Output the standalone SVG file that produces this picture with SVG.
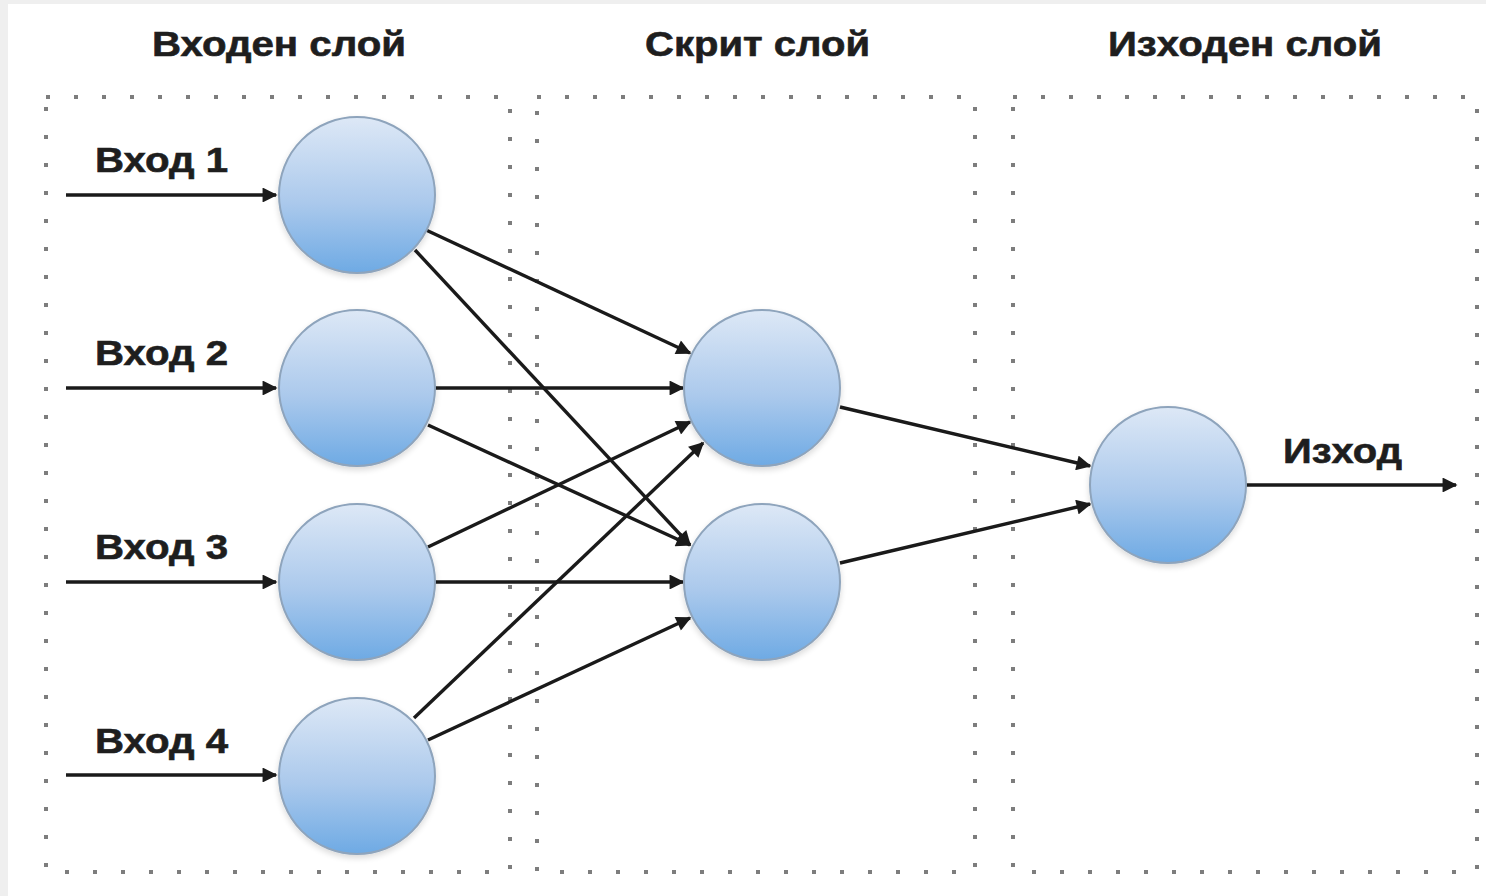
<svg xmlns="http://www.w3.org/2000/svg" width="1486" height="896" viewBox="0 0 1486 896">
  <style>
    .title { font-family: "Liberation Sans", Arial, sans-serif; font-weight: bold; font-size: 35px; fill: #1e1e1e; stroke: #1e1e1e; stroke-width: 0.6; }
    .label { font-family: "Liberation Sans", Arial, sans-serif; font-weight: bold; font-size: 35px; fill: #1e1e1e; stroke: #1e1e1e; stroke-width: 0.6; }
    .layer { fill: none; stroke: #7d7d7d; stroke-width: 4; stroke-dasharray: 4 24; stroke-linecap: butt; }
    .neuron { fill: url(#ballFill); stroke: #8ea4bc; stroke-width: 2; filter: url(#soft); }
    .edge { fill: none; stroke: #1a1a1a; stroke-width: 3.4; marker-end: url(#arrow); }
  </style>
  <defs>
    <linearGradient id="ballFill" x1="0" y1="0" x2="0" y2="1">
      <stop offset="0" stop-color="#dde8f6"/>
      <stop offset="0.55" stop-color="#abc9ec"/>
      <stop offset="1" stop-color="#6eaae4"/>
    </linearGradient>
    <filter id="soft" x="-20%" y="-20%" width="140%" height="140%">
      <feGaussianBlur in="SourceAlpha" stdDeviation="3"/>
      <feOffset dx="0" dy="3" result="b"/>
      <feComponentTransfer><feFuncA type="linear" slope="0.15"/></feComponentTransfer>
      <feMerge><feMergeNode/><feMergeNode in="SourceGraphic"/></feMerge>
    </filter>
    <marker id="arrow" viewBox="0 0 10 10" refX="9" refY="5" markerWidth="5" markerHeight="4.4" orient="auto" markerUnits="strokeWidth">
      <path d="M0,0 L10,5 L0,10 Z" fill="#1a1a1a"/>
    </marker>
  </defs>

  <!-- page -->
  <rect x="0" y="0" width="1486" height="896" fill="#efefef"/>
  <rect x="8" y="4" width="1478" height="892" fill="#ffffff"/>

  <!-- layer frames -->
  <g id="layers">
    <rect class="layer" x="46" y="97" width="464" height="775"/>
    <rect class="layer" x="537" y="97" width="438" height="775"/>
    <rect class="layer" x="1013" y="97" width="464" height="775"/>
  </g>

  <!-- layer titles -->
  <g id="titles">
    <text class="title" x="152" y="56" textLength="254" lengthAdjust="spacingAndGlyphs">Входен слой</text>
    <text class="title" x="645" y="56" textLength="225" lengthAdjust="spacingAndGlyphs">Скрит слой</text>
    <text class="title" x="1108" y="56" textLength="274" lengthAdjust="spacingAndGlyphs">Изходен слой</text>
  </g>

  <!-- connections -->
  <g id="connectors">
    <line class="edge" x1="66" y1="195" x2="276" y2="195"/>
    <line class="edge" x1="66" y1="388" x2="276" y2="388"/>
    <line class="edge" x1="66" y1="582" x2="276" y2="582"/>
    <line class="edge" x1="66" y1="775" x2="276" y2="775"/>

    <line class="edge" x1="426" y1="230" x2="690" y2="353"/>
    <line class="edge" x1="415" y1="250" x2="690" y2="545"/>
    <line class="edge" x1="435" y1="388" x2="683" y2="388"/>
    <line class="edge" x1="428" y1="425" x2="690" y2="545"/>
    <line class="edge" x1="428" y1="547" x2="690" y2="422"/>
    <line class="edge" x1="435" y1="582" x2="683" y2="582"/>
    <line class="edge" x1="414" y1="718" x2="703" y2="443"/>
    <line class="edge" x1="428" y1="740" x2="690" y2="618"/>

    <line class="edge" x1="840" y1="407" x2="1090" y2="466"/>
    <line class="edge" x1="840" y1="563" x2="1090" y2="504"/>
    <line class="edge" x1="1246" y1="485" x2="1456" y2="485"/>
  </g>

  <!-- neurons -->
  <g id="in1"><circle class="neuron" cx="357" cy="195" r="78"/><text class="label" x="95" y="172" textLength="133" lengthAdjust="spacingAndGlyphs">Вход 1</text></g>
  <g id="in2"><circle class="neuron" cx="357" cy="388" r="78"/><text class="label" x="95" y="365" textLength="133" lengthAdjust="spacingAndGlyphs">Вход 2</text></g>
  <g id="in3"><circle class="neuron" cx="357" cy="582" r="78"/><text class="label" x="95" y="559" textLength="133" lengthAdjust="spacingAndGlyphs">Вход 3</text></g>
  <g id="in4"><circle class="neuron" cx="357" cy="776" r="78"/><text class="label" x="95" y="753" textLength="133" lengthAdjust="spacingAndGlyphs">Вход 4</text></g>
  <g id="hidden1"><circle class="neuron" cx="762" cy="388" r="78"/></g>
  <g id="hidden2"><circle class="neuron" cx="762" cy="582" r="78"/></g>
  <g id="out"><circle class="neuron" cx="1168" cy="485" r="78"/><text class="label" x="1283" y="463" textLength="119" lengthAdjust="spacingAndGlyphs">Изход</text></g>
</svg>
